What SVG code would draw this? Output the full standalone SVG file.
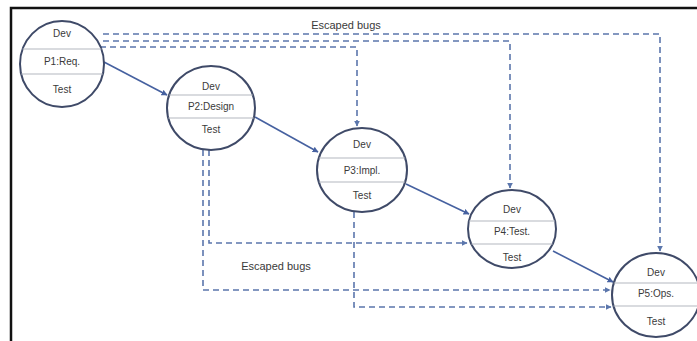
<svg xmlns="http://www.w3.org/2000/svg" width="697" height="341" viewBox="0 0 697 341">
<style>
.node{fill:#fff;stroke:#3f4a68;stroke-width:2}
.sep{stroke:#b4b8c0;stroke-width:1.2}
.t{font-family:"Liberation Sans",Arial,sans-serif;font-size:10px;fill:#3a3a3a;text-anchor:middle}
.lbl{font-family:"Liberation Sans",Arial,sans-serif;font-size:11px;fill:#3a3a3a;text-anchor:middle}
.solid{fill:none;stroke:#4661a0;stroke-width:1.6;marker-end:url(#ah)}
.dash{fill:none;stroke:#5b76ac;stroke-width:1.6;stroke-dasharray:6 4;marker-end:url(#ah2)}
</style>
<defs>
<marker id="ah" viewBox="0 0 10 10" refX="9" refY="5" markerWidth="6" markerHeight="6" orient="auto" markerUnits="userSpaceOnUse">
<path d="M0,0 L10,5 L0,10 z" fill="#4661a0"/>
</marker>
<marker id="ah2" viewBox="0 0 10 10" refX="9" refY="5" markerWidth="6" markerHeight="6" orient="auto" markerUnits="userSpaceOnUse">
<path d="M0,0 L10,5 L0,10 z" fill="#5b76ac"/>
</marker>
</defs>
<rect width="697" height="341" fill="#fff"/>
<path d="M11,341 V8 H697" fill="none" stroke="#111" stroke-width="2.5"/>

<g id="connectors">
<path class="dash" d="M103,34 H660 V251"/>
<path class="dash" d="M103,41 H510 V188"/>
<path class="dash" d="M100,47 H357 V126"/>
<path class="dash" d="M209,150 V243 H467"/>
<path class="dash" d="M203,150 V290 H610"/>
<path class="dash" d="M354,212 V307 H611"/>
<path class="solid" d="M104,62 L167,95"/>
<path class="solid" d="M255,117 L318,152"/>
<path class="solid" d="M406,184 L469,214"/>
<path class="solid" d="M553,251 L613,282"/>
</g>

<g id="P1">
<ellipse class="node" cx="62" cy="64" rx="42" ry="43"/>
<line class="sep" x1="22.6" y1="49" x2="101.4" y2="49"/>
<line class="sep" x1="21.2" y1="74" x2="102.8" y2="74"/>
<text class="t" x="62" y="37">Dev</text>
<text class="t" x="62" y="65">P1:Req.</text>
<text class="t" x="62" y="93">Test</text>
</g>

<g id="P2">
<ellipse class="node" cx="211" cy="108" rx="44" ry="42"/>
<line class="sep" x1="169.2" y1="95" x2="252.8" y2="95"/>
<line class="sep" x1="168.3" y1="118" x2="253.7" y2="118"/>
<text class="t" x="211" y="90">Dev</text>
<text class="t" x="211" y="110">P2:Design</text>
<text class="t" x="211" y="133">Test</text>
</g>

<g id="P3">
<ellipse class="node" cx="362" cy="170" rx="45" ry="42"/>
<line class="sep" x1="318.9" y1="158" x2="405.1" y2="158"/>
<line class="sep" x1="318.9" y1="182" x2="405.1" y2="182"/>
<text class="t" x="362" y="148">Dev</text>
<text class="t" x="362" y="174">P3:Impl.</text>
<text class="t" x="362" y="199">Test</text>
</g>

<g id="P4">
<ellipse class="node" cx="512" cy="229" rx="44" ry="39"/>
<line class="sep" x1="468.9" y1="221" x2="555.1" y2="221"/>
<line class="sep" x1="471.4" y1="244" x2="552.6" y2="244"/>
<text class="t" x="512" y="213">Dev</text>
<text class="t" x="512" y="235">P4:Test.</text>
<text class="t" x="512" y="261">Test</text>
</g>

<g id="P5">
<ellipse class="node" cx="656" cy="295" rx="44" ry="42"/>
<line class="sep" x1="613.8" y1="283" x2="698.2" y2="283"/>
<line class="sep" x1="613.5" y1="306" x2="698.5" y2="306"/>
<text class="t" x="656" y="276">Dev</text>
<text class="t" x="656" y="297">P5:Ops.</text>
<text class="t" x="656" y="325">Test</text>
</g>

<text class="lbl" x="346" y="29">Escaped bugs</text>
<text class="lbl" x="276" y="270">Escaped bugs</text>
</svg>
